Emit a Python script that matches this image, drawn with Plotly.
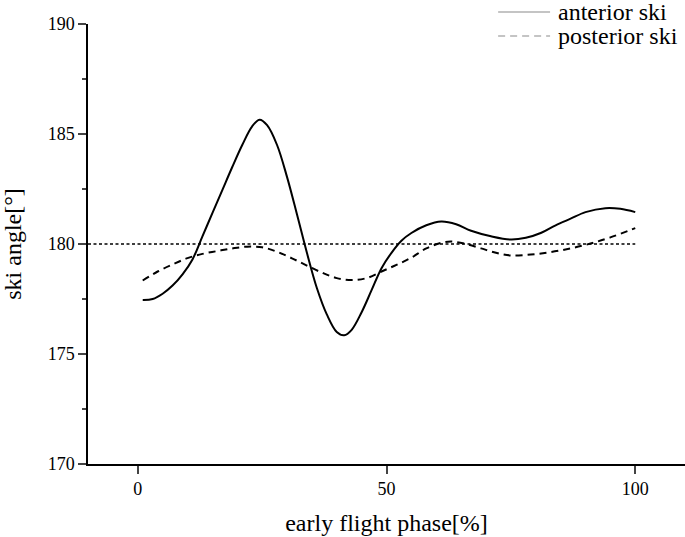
import plotly.graph_objects as go

# anterior ski angle (solid line)
anterior_x = [1, 3, 5, 7, 9, 11, 13, 15, 17, 19, 21, 23, 24.5, 26, 28, 30, 32, 34, 36, 38, 40, 41.5,
              43, 45, 47, 49, 51, 53, 55, 58, 61, 64, 67, 71, 75, 78, 81, 84, 87, 90, 94, 97, 100]
anterior_y = [177.46, 177.5, 177.74, 178.11, 178.62, 179.3, 180.35, 181.4, 182.45, 183.5, 184.5,
              185.35, 185.65, 185.4, 184.5, 183.05, 181.35, 179.6, 178.0, 176.8, 176.0, 175.85,
              176.1, 176.9, 177.9, 178.9, 179.6, 180.15, 180.5, 180.85, 181.02, 180.9, 180.6,
              180.35, 180.2, 180.28, 180.5, 180.85, 181.15, 181.45, 181.63, 181.6, 181.45]

# posterior ski angle (dashed line)
posterior_x = [1, 4, 7, 10, 13, 16, 19, 22, 25, 28, 31, 34, 37, 40, 43, 46, 49, 52, 55, 58, 61, 63,
               66, 69, 72, 75, 79, 83, 87, 91, 95, 100]
posterior_y = [178.34, 178.75, 179.07, 179.36, 179.55, 179.68, 179.8, 179.88, 179.85, 179.65,
               179.35, 179.02, 178.7, 178.45, 178.36, 178.45, 178.75, 179.05, 179.38, 179.8,
               180.05, 180.11, 180.0, 179.8, 179.6, 179.48, 179.52, 179.63, 179.8, 180.02,
               180.3, 180.72]

# horizontal reference at 180 deg
ref_x = [-10, 100]
ref_y = [180, 180]

x_ticks = [0, 50, 100]
y_ticks = [170, 175, 180, 185, 190]

legend_names = ["anterior ski", "posterior ski"]

FONT = "Liberation Serif"

fig = go.Figure()

fig.add_trace(go.Scatter(x=ref_x, y=ref_y, mode="lines", showlegend=False,
                         line=dict(color="black", width=1.5, dash="3px,2.5px")))
fig.add_trace(go.Scatter(x=anterior_x, y=anterior_y, mode="lines", showlegend=False,
                         line=dict(color="black", width=2, shape="spline", smoothing=1)))
fig.add_trace(go.Scatter(x=posterior_x, y=posterior_y, mode="lines", showlegend=False,
                         line=dict(color="black", width=2, shape="spline", smoothing=1,
                                   dash="7px,5px")))

# legend drawn by hand: long light grey sample lines, as in the original
for i, (name, dash) in enumerate(zip(legend_names, ["solid", "7px,5px"])):
    yy = 1.0273 - i * 0.0546
    fig.add_shape(type="line", xref="paper", yref="paper", x0=0.687, x1=0.774, y0=yy, y1=yy,
                  line=dict(color="#c4c4c4", width=2, dash=dash))
    fig.add_annotation(text=name, xref="paper", yref="paper", x=0.784, y=yy,
                       xanchor="left", yanchor="middle", showarrow=False,
                       font=dict(size=24))

fig.update_layout(
    width=685, height=537,
    margin=dict(l=88, r=0, t=24, b=73, autoexpand=False),
    plot_bgcolor="white", paper_bgcolor="white",
    font=dict(family=FONT, size=18, color="black"),
    showlegend=False,
)

fig.update_xaxes(
    range=[-10, 110], tickvals=x_ticks, ticks="outside", ticklen=8, tickwidth=1.5,
    showline=True, linecolor="black", linewidth=1.5, showgrid=False, zeroline=False,
    automargin=False,
    title=dict(text="early flight phase[%]", font=dict(size=24), standoff=16),
)
fig.update_yaxes(
    range=[170, 190], tickvals=y_ticks, ticks="outside", ticklen=8, tickwidth=1.5,
    minor=dict(dtick=2.5, ticks="outside", ticklen=4, tickwidth=1.5, showgrid=False),
    showline=True, linecolor="black", linewidth=1.5, showgrid=False, zeroline=False,
    automargin=False,
    title=dict(text="ski angle[°]", font=dict(size=24), standoff=28),
)

# drop the default 8px body margin so the figure sits at the window corner
fig.write_html("out.html", config={"displayModeBar": False},
               post_script="document.body.style.margin='0';")
